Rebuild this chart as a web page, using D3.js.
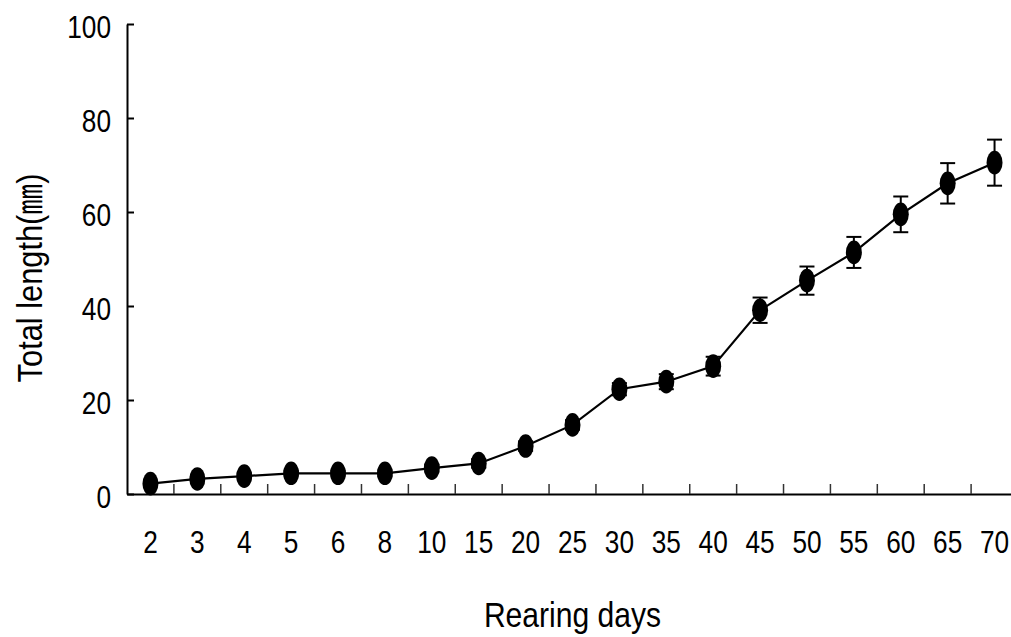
<!DOCTYPE html>
<html>
<head>
<meta charset="utf-8">
<script src="https://cdn.jsdelivr.net/npm/d3@7"></script>
<style>
  html, body { margin: 0; padding: 0; background: #fff; }
  svg { display: block; }
  text { font-family: "Liberation Sans", Arial, "Noto Sans CJK KR", sans-serif; fill: #000; }
</style>
</head>
<body>
<svg id="chart" width="1011" height="637"></svg>
<script>
// Rearing days (category labels along the x axis)
const days = ["2", "3", "4", "5", "6", "8", "10", "15", "20", "25", "30", "35", "40", "45", "50", "55", "60", "65", "70"];
// Mean total length (mm) for each rearing day
const meanLength = [2.2, 3.2, 3.8, 4.4, 4.4, 4.4, 5.5, 6.5, 10.2, 14.7, 22.3, 23.9, 27.2, 39.1, 45.4, 51.4, 59.5, 66.1, 70.5];
// Standard deviation (mm) for each rearing day
const sdLength = [0.3, 0.4, 0.5, 0.5, 0.5, 0.6, 0.7, 0.9, 1.0, 1.0, 1.3, 1.6, 2.0, 2.7, 3.0, 3.3, 3.8, 4.3, 4.9];
// Y axis ticks
const yTicks = [0, 20, 40, 60, 80, 100];

const data = days.map((d, i) => ({ day: d, mean: meanLength[i], sd: sdLength[i] }));

const svg = d3.select("#chart");
const plot = { left: 127, right: 1018, top: 24, bottom: 494 };

const x = d3.scaleBand().domain(days).range([plot.left, plot.right]).padding(0);
const y = d3.scaleLinear().domain([0, 100]).range([plot.bottom, plot.top]);
const cx = d => x(d) + x.bandwidth() / 2;

// Y axis: ticks point into the plot
const yAxis = svg.append("g")
  .attr("transform", `translate(${plot.left},0)`)
  .call(d3.axisLeft(y).tickValues(yTicks).tickSizeInner(-7).tickSizeOuter(0).tickFormat(d3.format("d")));
yAxis.select(".domain").attr("stroke", "#000").attr("stroke-width", 2);
yAxis.selectAll(".tick line").attr("stroke", "#000").attr("stroke-width", 2);
yAxis.selectAll(".tick text")
  .attr("x", null).attr("dy", null)
  .attr("transform", "translate(-16,13.5) scale(0.82,1)")
  .attr("text-anchor", "end")
  .style("font-size", "32px");

// X axis: labels centred in each band, ticks at band boundaries
const xAxis = svg.append("g")
  .attr("transform", `translate(0,${plot.bottom})`)
  .call(d3.axisBottom(x).tickSize(0).tickSizeOuter(0));
xAxis.select(".domain").attr("stroke", "#000").attr("stroke-width", 2);
xAxis.selectAll(".tick text")
  .attr("y", null).attr("dy", null)
  .attr("transform", "translate(0,59) scale(0.82,1)")
  .attr("text-anchor", "middle")
  .style("font-size", "32px");

xAxis.selectAll(".boundary")
  .data(days.slice(1))
  .join("line")
  .attr("class", "boundary")
  .attr("x1", d => x(d)).attr("x2", d => x(d))
  .attr("y1", 0).attr("y2", -10)
  .attr("stroke", "#333").attr("stroke-width", 1.5);

// Connecting line
svg.append("path")
  .datum(data)
  .attr("fill", "none")
  .attr("stroke", "#000")
  .attr("stroke-width", 2.2)
  .attr("d", d3.line().x(d => cx(d.day)).y(d => y(d.mean)));

// Error bars
const eb = svg.append("g").attr("stroke", "#000").attr("stroke-width", 2);
const capHalf = 7.5;
eb.selectAll(".stem").data(data).join("line")
  .attr("x1", d => cx(d.day)).attr("x2", d => cx(d.day))
  .attr("y1", d => y(d.mean - d.sd)).attr("y2", d => y(d.mean + d.sd));
eb.selectAll(".capTop").data(data).join("line")
  .attr("x1", d => cx(d.day) - capHalf).attr("x2", d => cx(d.day) + capHalf)
  .attr("y1", d => y(d.mean + d.sd)).attr("y2", d => y(d.mean + d.sd));
eb.selectAll(".capBot").data(data).join("line")
  .attr("x1", d => cx(d.day) - capHalf).attr("x2", d => cx(d.day) + capHalf)
  .attr("y1", d => y(d.mean - d.sd)).attr("y2", d => y(d.mean - d.sd));

// Markers
svg.append("g").selectAll("ellipse").data(data).join("ellipse")
  .attr("cx", d => cx(d.day)).attr("cy", d => y(d.mean))
  .attr("rx", 8).attr("ry", 11.8)
  .attr("fill", "#000");

// Axis titles
svg.append("text")
  .attr("transform", `translate(${(plot.left + plot.right) / 2},627) scale(0.86,1)`)
  .attr("text-anchor", "middle")
  .style("font-size", "35px")
  .text("Rearing days");

svg.append("text")
  .attr("transform", "translate(41.5,278) rotate(-90) scale(0.88,1)")
  .attr("text-anchor", "middle")
  .style("font-size", "35px")
  .text("Total length(㎜)");
</script>
</body>
</html>
